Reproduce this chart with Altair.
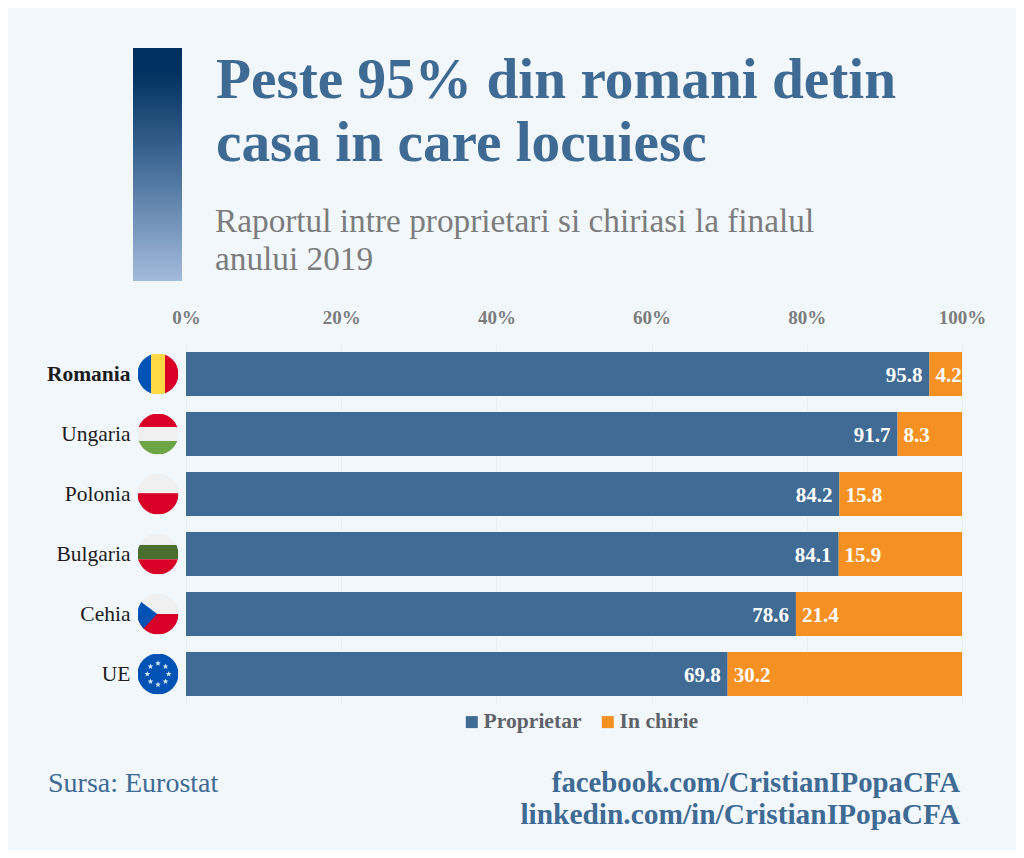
import base64, math
import altair as alt
import pandas as pd

countries = ["Romania", "Ungaria", "Polonia", "Bulgaria", "Cehia", "UE"]
proprietar = [95.8, 91.7, 84.2, 84.1, 78.6, 69.8]
chirie = [4.2, 8.3, 15.8, 15.9, 21.4, 30.2]
series = ["Proprietar", "In chirie"]
colors = ["#3f6b94", "#f59022"]
ticks = [0, 20, 40, 60, 80, 100]
title_lines = ["Peste 95% din romani detin", "casa in care locuiesc"]
subtitle_lines = ["Raportul intre proprietari si chiriasi la finalul", "anului 2019"]
source_text = "Sursa: Eurostat"
link_lines = ["facebook.com/CristianIPopaCFA", "linkedin.com/in/CristianIPopaCFA"]

FONT = "Liberation Serif"
BG = "#f2f7fb"
BLUE_TEXT = "#3e6a94"
GREY = "#7c7c7c"


def stars():
    out = ""
    for i in range(8):
        a = math.radians(i * 45)
        cx, cy = 50 + 26 * math.cos(a), 50 + 26 * math.sin(a)
        pts = []
        for k in range(10):
            r = 7.5 if k % 2 == 0 else 3.2
            t = math.radians(-90 + k * 36)
            pts.append(f"{cx + r * math.cos(t):.1f},{cy + r * math.sin(t):.1f}")
        out += f'<polygon points="{" ".join(pts)}" fill="#d5e3ee"/>'
    return out


W, R, B, Y, G = "#f0f0f0", "#d80027", "#0052b4", "#ffda44", "#6da544"
flag_shapes = {
    "Romania": f'<rect width="33" height="100" fill="{B}"/><rect x="33" width="34" height="100" fill="{Y}"/><rect x="67" width="33" height="100" fill="{R}"/>',
    "Ungaria": f'<rect width="100" height="33" fill="{R}"/><rect y="33" width="100" height="34" fill="{W}"/><rect y="67" width="100" height="33" fill="{G}"/>',
    "Polonia": f'<rect width="100" height="48" fill="{W}"/><rect y="48" width="100" height="52" fill="{R}"/>',
    "Bulgaria": f'<rect width="100" height="28" fill="{W}"/><rect y="28" width="100" height="35" fill="#496e2d"/><rect y="63" width="100" height="37" fill="{R}"/>',
    "Cehia": f'<rect width="100" height="50" fill="{W}"/><rect y="50" width="100" height="50" fill="{R}"/><polygon points="0,14 48,50 14,86 0,86" fill="{B}"/>',
    "UE": f'<rect width="100" height="100" fill="#0052b4"/>{stars()}',
}


def flag_url(name):
    svg = ('<svg xmlns="http://www.w3.org/2000/svg" width="200" height="200" viewBox="0 0 100 100">'
           '<defs><clipPath id="c"><circle cx="50" cy="50" r="50"/></clipPath></defs>'
           f'<g clip-path="url(#c)">{flag_shapes[name]}</g></svg>')
    return "data:image/svg+xml;base64," + base64.b64encode(svg.encode()).decode()


rows = []
for c, p, h in zip(countries, proprietar, chirie):
    rows.append(dict(country=c, series=series[0], start=0, end=p, value=p, anchor=p))
    rows.append(dict(country=c, series=series[1], start=p, end=p + h, value=h, anchor=p))
df = pd.DataFrame(rows)
flags_df = pd.DataFrame({"country": countries, "url": [flag_url(c) for c in countries]})

y_enc = alt.Y("country:N", sort=countries, title=None,
              scale=alt.Scale(paddingInner=16 / 60, paddingOuter=8 / 60),
              axis=alt.Axis(domain=False, ticks=False, labelPadding=56, labelFont=FONT, labelFontSize=21.5,
                            labelOffset=1, labelColor="#1c1c1c", labelLimit=200,
                            labelFontWeight=alt.condition("datum.value == 'Romania'", alt.value("bold"), alt.value("normal"))))
x_scale = alt.Scale(domain=[0, 100], nice=False)

bars = alt.Chart(df).mark_bar(clip=False).encode(
    x=alt.X("start:Q", scale=x_scale, title=None,
            axis=alt.Axis(orient="top", values=ticks, labelExpr="datum.value + '%'", domain=False, ticks=False,
                          labelPadding=17, labelFlush=False, labelOverlap=False, labelFont=FONT, labelFontSize=19,
                          labelFontWeight="bold", labelColor=GREY, grid=True, gridColor="#eaeff3", gridWidth=1)),
    x2="end:Q",
    y=y_enc,
    color=alt.Color("series:N", scale=alt.Scale(domain=series, range=colors), title=None,
                    legend=alt.Legend(orient="none", legendX=275, legendY=367, direction="horizontal",
                                      symbolType="square", symbolSize=144, symbolStrokeWidth=0, columnPadding=15,
                                      labelOffset=1, labelFont=FONT, labelFontSize=21.6, labelFontWeight="bold",
                                      labelColor="#5f6368")),
)

label_base = alt.Chart(df)
labels_left = label_base.transform_filter(alt.datum.series == series[0]).mark_text(
    align="right", dx=-7, dy=2, font=FONT, fontSize=21, fontWeight="bold", color="white"
).encode(x=alt.X("anchor:Q", scale=x_scale), y=alt.Y("country:N", sort=countries), text=alt.Text("value:Q", format=".1f"))
labels_right = label_base.transform_filter(alt.datum.series == series[1]).mark_text(
    align="left", dx=6, dy=2, font=FONT, fontSize=21, fontWeight="bold", color="white"
).encode(x=alt.X("anchor:Q", scale=x_scale), y=alt.Y("country:N", sort=countries), text=alt.Text("value:Q", format=".1f"))

flags = alt.Chart(flags_df).mark_image(width=41, height=41, align="center", baseline="middle").encode(
    x=alt.value(-28), y=alt.Y("country:N", sort=countries), url="url:N")

gradient = alt.Chart(pd.DataFrame({"a": [0]})).mark_rect(
    color=alt.LinearGradient(gradient="linear", x1=0, x2=0, y1=0, y2=1,
                             stops=[alt.GradientStop(offset=0, color="#00305f"),
                                    alt.GradientStop(offset=0.1, color="#01315f"),
                                    alt.GradientStop(offset=0.45, color="#3a6491"),
                                    alt.GradientStop(offset=1, color="#a3bbdc")])
).encode(x=alt.value(-53), x2=alt.value(-4), y=alt.value(-296), y2=alt.value(-63))


def text_layer(text, x, y, size, color, weight="normal", align="left"):
    return alt.Chart(pd.DataFrame({"t": [text]})).mark_text(
        align=align, baseline="alphabetic", font=FONT, fontSize=size, fontWeight=weight, color=color
    ).encode(x=alt.value(x), y=alt.value(y), text="t:N")


top = 344
left = 186
texts = [
    text_layer(title_lines[0], 216 - left, 98 - top, 57.3, BLUE_TEXT, "bold"),
    text_layer(title_lines[1], 216 - left, 161 - top, 57.3, BLUE_TEXT, "bold"),
    text_layer(subtitle_lines[0], 215 - left, 232 - top, 33.3, GREY),
    text_layer(subtitle_lines[1], 215 - left, 270 - top, 33.3, GREY),
    text_layer(source_text, 48 - left, 792 - top, 28, BLUE_TEXT),
    text_layer(link_lines[0], 960 - left, 792 - top, 28.8, BLUE_TEXT, "bold", "right"),
    text_layer(link_lines[1], 960 - left, 824 - top, 29.4, BLUE_TEXT, "bold", "right"),
]

chart = alt.layer(bars, labels_left, labels_right, flags, gradient, *texts).properties(
    width=776, height=360, background=BG,
    autosize=alt.AutoSizeParams(type="none"),
    padding={"left": left - 8, "top": top - 8, "right": 1008 - (left - 8) - 776, "bottom": 842 - (top - 8) - 360},
).configure_view(stroke=None)

chart.save("out.html", embed_options={"renderer": "svg", "actions": False})
